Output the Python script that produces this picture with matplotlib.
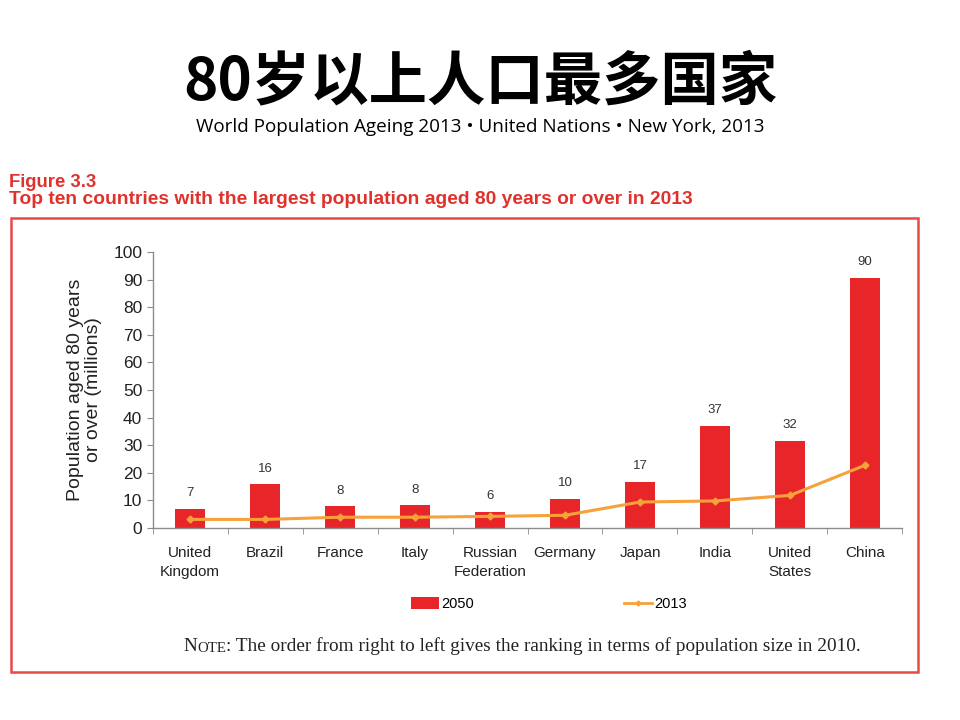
import numpy as np
import matplotlib.pyplot as plt
from matplotlib.patches import Rectangle, Patch
from matplotlib.lines import Line2D

plt.rcParams['font.family'] = ['Liberation Sans', 'DejaVu Sans']

# data
countries = ['United\nKingdom', 'Brazil', 'France', 'Italy', 'Russian\nFederation',
             'Germany', 'Japan', 'India', 'United\nStates', 'China']
pop_2050 = [7.0, 15.8, 7.9, 8.2, 5.8, 10.6, 16.8, 37.0, 31.6, 90.6]
labels_2050 = ['7', '16', '8', '8', '6', '10', '17', '37', '32', '90']
pop_2013 = [3.1, 3.1, 3.9, 3.9, 4.2, 4.6, 9.4, 9.8, 11.8, 22.7]
y_ticks = [0, 10, 20, 30, 40, 50, 60, 70, 80, 90, 100]

bar_red = '#e8262a'
line_orange = '#f7a13a'
title_red = '#e0322c'
axis_grey = '#8c8c8c'

fig = plt.figure(figsize=(9.6, 7.2), dpi=100)

# headings
fig.text(0.5, 0.886, '80岁以上人口最多国家', ha='center', va='center', fontsize=42,
         fontweight='bold', family=['Noto Sans CJK SC', 'DejaVu Sans'])
fig.text(0.5, 0.823, 'World Population Ageing 2013 \u2022 United Nations \u2022 New York, 2013',
         ha='center', va='center', fontsize=13.6, family=['Open Sans', 'DejaVu Sans'])
fig.text(0.009, 0.747, 'Figure 3.3', ha='left', va='center', fontsize=13.3,
         fontweight='bold', color=title_red)
fig.text(0.009, 0.723, 'Top ten countries with the largest population aged 80 years or over in 2013',
         ha='left', va='center', fontsize=13.9, fontweight='bold', color=title_red)

# red frame
fig.patches.append(Rectangle((0.011, 0.067), 0.945, 0.630, transform=fig.transFigure,
                             fill=False, edgecolor='#e64a45', linewidth=1.8))

ax = fig.add_axes([0.159, 0.2667, 0.781, 0.3833])
x = np.arange(len(countries))
ax.bar(x, pop_2050, width=0.4, color=bar_red, zorder=2, label='2050')
ax.plot(x, pop_2013, color=line_orange, linewidth=2.2, marker='D', markersize=3.5,
        zorder=3, label='2013')
for xi, v, lab in zip(x, pop_2050, labels_2050):
    ax.text(xi, v + 3.5, lab, ha='center', va='bottom', fontsize=9.5, color='#333333')

ax.set_xlim(-0.5, len(countries) - 0.5)
ax.set_ylim(0, 100)
ax.set_yticks(y_ticks)
ax.set_xticks(x)
ax.set_xticklabels(countries, fontsize=11, color='#222222', linespacing=1.45)
ax.set_xticks(np.arange(len(countries) + 1) - 0.5, minor=True)
ax.tick_params(axis='x', which='major', length=0, pad=13)
ax.tick_params(axis='x', which='minor', length=4, color=axis_grey, direction='out')
ax.tick_params(axis='y', labelsize=12.5, length=4, color=axis_grey, labelcolor='#222222')
for s in ['top', 'right']:
    ax.spines[s].set_visible(False)
for s in ['left', 'bottom']:
    ax.spines[s].set_color(axis_grey)
    ax.spines[s].set_linewidth(1.0)
ax.set_ylabel('Population aged 80 years\nor over (millions)', fontsize=14,
              color='#222222', labelpad=8, linespacing=1.1)

handles = [Patch(facecolor=bar_red, edgecolor='none'),
           Line2D([0], [0], color=line_orange, linewidth=2, marker='D', markersize=2.5)]
fig.legend(handles, ['2050', '2013'], loc='center', bbox_to_anchor=(0.572, 0.161), ncol=2,
           frameon=False, fontsize=10.5, columnspacing=10.3, handlelength=1.9,
           handletextpad=0.15, handleheight=0.8)

# note with small caps
t1 = fig.text(0.191, 0.096, 'N', ha='left', va='baseline', fontsize=13.9,
              family='Liberation Serif', color='#222222')
a2 = fig.add_artist(plt.Annotation('OTE', xy=(1, 0), xycoords=t1, va='bottom',
                                   fontsize=10.7, family='Liberation Serif', color='#222222'))
a3 = fig.add_artist(plt.Annotation(': The order from right to left gives the ranking in terms of population size in 2010.',
                                   xy=(1, 0), xycoords=a2, va='bottom', fontsize=13.9,
                                   family='Liberation Serif', color='#222222'))

fig.savefig('out.png', dpi=100)
